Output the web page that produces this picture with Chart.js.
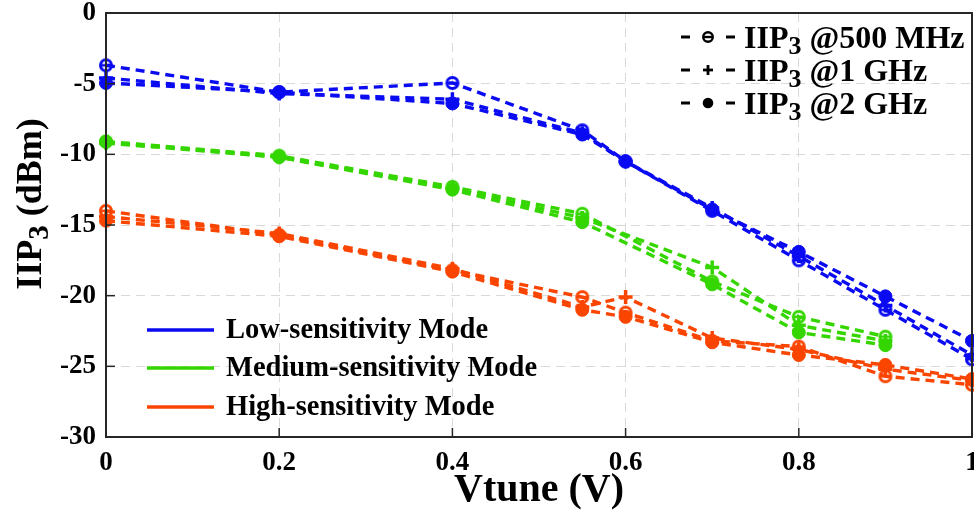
<!DOCTYPE html>
<html>
<head>
<meta charset="utf-8">
<script src="https://cdn.jsdelivr.net/npm/chart.js@4.4.1/dist/chart.umd.min.js"></script>
<style>
  html, body { margin: 0; padding: 0; background: #fff; }
  #wrap { width: 974px; height: 510px; }
</style>
</head>
<body>
<div id="wrap"><canvas id="c" width="974" height="510"></canvas></div>
<script>
// Tuning voltage sweep (V)
const vtune = [0, 0.2, 0.4, 0.55, 0.6, 0.7, 0.8, 0.9, 1];

// IIP3 (dBm) per sensitivity mode and test frequency
const lowIIP3_500M  = [-3.7, -5.6, -4.95, -8.3, -10.5, -14.0, -17.5, -21.0, -24.5];
const lowIIP3_1G    = [-4.6, -5.7, -6.1, -8.5, -10.5, -13.8, -17.2, -20.7, -24.2];
const lowIIP3_2G    = [-4.95, -5.6, -6.4, -8.6, -10.5, -13.9, -16.9, -20.05, -23.2];

const medIIP3_500M  = [-9.1, -10.1, -12.3, -14.2, null, -19.0, -21.5, -22.9, null];
const medIIP3_1G    = [-9.2, -10.2, -12.4, -14.5, null, -18.0, -22.1, -23.2, null];
const medIIP3_2G    = [-9.1, -10.2, -12.5, -14.8, null, -19.2, -22.6, -23.5, null];

const highIIP3_500M = [-14.0, -15.7, -18.2, -20.1, -21.2, -23.2, -23.6, -25.7, -26.3];
const highIIP3_1G   = [-14.4, -15.6, -18.1, -20.8, -20.1, -23.0, -23.8, -25.2, -26.0];
const highIIP3_2G   = [-14.7, -15.8, -18.3, -21.0, -21.5, -23.3, -24.2, -24.9, -25.9];

// Axis ticks
const xTickValues = [0, 0.2, 0.4, 0.6, 0.8, 1];
const xTickLabels = ['0', '0.2', '0.4', '0.6', '0.8', '1'];
const yTickValues = [0, -5, -10, -15, -20, -25, -30];
const yTickLabels = ['0', '-5', '-10', '-15', '-20', '-25', '-30'];

const modeNames = ['Low-sensitivity Mode', 'Medium-sensitivity Mode', 'High-sensitivity Mode'];
const freqNames = ['@500 MHz', '@1 GHz', '@2 GHz'];

const BLUE = '#0b0bf2', GREEN = '#35d600', RED = '#fa4500';
const SERIF = '"Liberation Serif", "Times New Roman", serif';

// Ring with a horizontal bar, used for the 500 MHz markers
function ringMarker(color, r, lw) {
  const s = Math.ceil(2 * r + lw + 2);
  const cv = document.createElement('canvas');
  cv.width = s; cv.height = s;
  const g = cv.getContext('2d');
  g.strokeStyle = color;
  g.lineWidth = lw;
  g.beginPath(); g.arc(s / 2, s / 2, r, 0, Math.PI * 2); g.stroke();
  g.lineWidth = lw * 0.85;
  g.beginPath(); g.moveTo(s / 2 - r + 1, s / 2); g.lineTo(s / 2 + r - 1, s / 2); g.stroke();
  return cv;
}

function pts(ys) {
  const out = [];
  ys.forEach((y, i) => { if (y !== null) out.push({ x: vtune[i], y: y }); });
  return out;
}

function series(ys, color, kind) {
  const ds = {
    data: pts(ys),
    borderColor: color,
    backgroundColor: color,
    borderWidth: 3.4,
    borderDash: [9, 6],
    fill: false,
    tension: 0,
    clip: 8,
    pointBorderColor: color,
    pointBackgroundColor: color,
  };
  if (kind === 0) { ds.pointStyle = ringMarker(color, 5.5, 3); ds.pointRadius = 7; }
  if (kind === 1) { ds.pointStyle = 'cross'; ds.pointRadius = 7; ds.pointBorderWidth = 3.5; }
  if (kind === 2) { ds.pointStyle = 'circle'; ds.pointRadius = 6.5; ds.pointBorderWidth = 1; }
  return ds;
}

const datasets = [
  series(lowIIP3_500M, BLUE, 0), series(lowIIP3_1G, BLUE, 1), series(lowIIP3_2G, BLUE, 2),
  series(medIIP3_500M, GREEN, 0), series(medIIP3_1G, GREEN, 1), series(medIIP3_2G, GREEN, 2),
  series(highIIP3_500M, RED, 0), series(highIIP3_1G, RED, 1), series(highIIP3_2G, RED, 2),
];

// Draws text with a subscript "3" after "IIP"
function drawIIP3(ctx, x, y, size, rest, align) {
  const sub = Math.round(size * 0.8);
  const parts = [
    { t: 'IIP', f: `bold ${size}px ${SERIF}`, dy: 0 },
    { t: '3', f: `bold ${sub}px ${SERIF}`, dy: size * 0.2 },
    { t: rest, f: `bold ${size}px ${SERIF}`, dy: 0 },
  ];
  let w = 0;
  parts.forEach(p => { ctx.font = p.f; p.w = ctx.measureText(p.t).width; w += p.w; });
  let cx = align === 'center' ? x - w / 2 : x;
  ctx.textAlign = 'left';
  ctx.textBaseline = 'alphabetic';
  parts.forEach(p => { ctx.font = p.f; ctx.fillText(p.t, cx, y + p.dy); cx += p.w; });
}

const decor = {
  id: 'decor',
  afterDraw(chart) {
    const ctx = chart.ctx;
    const a = chart.chartArea;
    const xs = chart.scales.x, ys = chart.scales.y;
    ctx.save();

    // frame
    ctx.strokeStyle = '#262626';
    ctx.lineWidth = 2;
    ctx.setLineDash([]);
    ctx.strokeRect(a.left, a.top, a.right - a.left, a.bottom - a.top);

    // inward tick marks
    ctx.lineWidth = 1.5;
    xTickValues.forEach(v => {
      const px = xs.getPixelForValue(v);
      ctx.beginPath(); ctx.moveTo(px, a.bottom); ctx.lineTo(px, a.bottom - 9); ctx.stroke();
    });
    yTickValues.forEach(v => {
      const py = ys.getPixelForValue(v);
      ctx.beginPath(); ctx.moveTo(a.left, py); ctx.lineTo(a.left + 9, py); ctx.stroke();
    });

    ctx.fillStyle = '#000';
    // x axis title
    ctx.font = `bold 40px ${SERIF}`;
    ctx.textAlign = 'center';
    ctx.textBaseline = 'alphabetic';
    ctx.fillText('Vtune (V)', (a.left + a.right) / 2, 501);

    // y axis title
    ctx.save();
    ctx.translate(41, 204);
    ctx.rotate(-Math.PI / 2);
    drawIIP3(ctx, 0, 0, 36, ' (dBm)', 'center');
    ctx.restore();

    // frequency legend (top right)
    const rows = [37, 70, 103];
    rows.forEach((cy, i) => {
      ctx.strokeStyle = '#000';
      ctx.fillStyle = '#000';
      ctx.lineWidth = 3;
      ctx.beginPath(); ctx.moveTo(681, cy); ctx.lineTo(690, cy); ctx.stroke();
      ctx.beginPath(); ctx.moveTo(726, cy); ctx.lineTo(735, cy); ctx.stroke();
      const mx = 708;
      if (i === 0) {
        ctx.lineWidth = 2.4;
        ctx.beginPath(); ctx.arc(mx, cy, 4.8, 0, Math.PI * 2); ctx.stroke();
        ctx.beginPath(); ctx.moveTo(mx - 4, cy); ctx.lineTo(mx + 4, cy); ctx.stroke();
      } else if (i === 1) {
        ctx.lineWidth = 2.8;
        ctx.beginPath(); ctx.moveTo(mx - 5, cy); ctx.lineTo(mx + 5, cy); ctx.stroke();
        ctx.beginPath(); ctx.moveTo(mx, cy - 5); ctx.lineTo(mx, cy + 5); ctx.stroke();
      } else {
        ctx.beginPath(); ctx.arc(mx, cy, 5.3, 0, Math.PI * 2); ctx.fill();
      }
      drawIIP3(ctx, 744, cy + 11, 32, ' ' + freqNames[i], 'left');
    });

    // mode legend (bottom left)
    const modeColors = [BLUE, GREEN, RED];
    const mrows = [330, 368, 407];
    ctx.font = `bold 28.5px ${SERIF}`;
    ctx.textAlign = 'left';
    ctx.textBaseline = 'middle';
    mrows.forEach((cy, i) => {
      ctx.strokeStyle = modeColors[i];
      ctx.lineWidth = 3.4;
      ctx.beginPath(); ctx.moveTo(147, cy); ctx.lineTo(214, cy); ctx.stroke();
      ctx.fillStyle = '#000';
      ctx.fillText(modeNames[i], 226, cy + 1);
    });
    ctx.restore();
  }
};

new Chart(document.getElementById('c'), {
  type: 'line',
  data: { datasets },
  options: {
    responsive: false,
    animation: false,
    layout: { autoPadding: false, padding: { left: 0, right: 2, top: 13, bottom: 0 } },
    plugins: { legend: { display: false }, tooltip: { enabled: false } },
    scales: {
      x: {
        type: 'linear', min: 0, max: 1,
        afterBuildTicks: s => { s.ticks = xTickValues.map(v => ({ value: v })); },
        afterFit: s => { s.height = 73; s.paddingLeft = 0; s.paddingRight = 0; },
        ticks: {
          padding: 10,
          color: '#000',
          font: { family: SERIF, size: 27, weight: 'bold' },
          maxRotation: 0,
          callback: v => xTickLabels[xTickValues.indexOf(v)]
        },
        grid: { color: '#d9d9d9', lineWidth: 1, drawTicks: false },
        border: { display: false, dash: [9, 6] }
      },
      y: {
        type: 'linear', min: -30, max: 0,
        afterBuildTicks: s => { s.ticks = yTickValues.map(v => ({ value: v })); },
        afterFit: s => { s.width = 106; s.paddingTop = 0; s.paddingBottom = 0; },
        ticks: {
          padding: 10,
          color: '#000',
          font: { family: SERIF, size: 27, weight: 'bold' },
          callback: v => yTickLabels[yTickValues.indexOf(v)]
        },
        grid: { color: '#d9d9d9', lineWidth: 1, drawTicks: false },
        border: { display: false, dash: [9, 6] }
      }
    }
  },
  plugins: [decor]
});
</script>
</body>
</html>
